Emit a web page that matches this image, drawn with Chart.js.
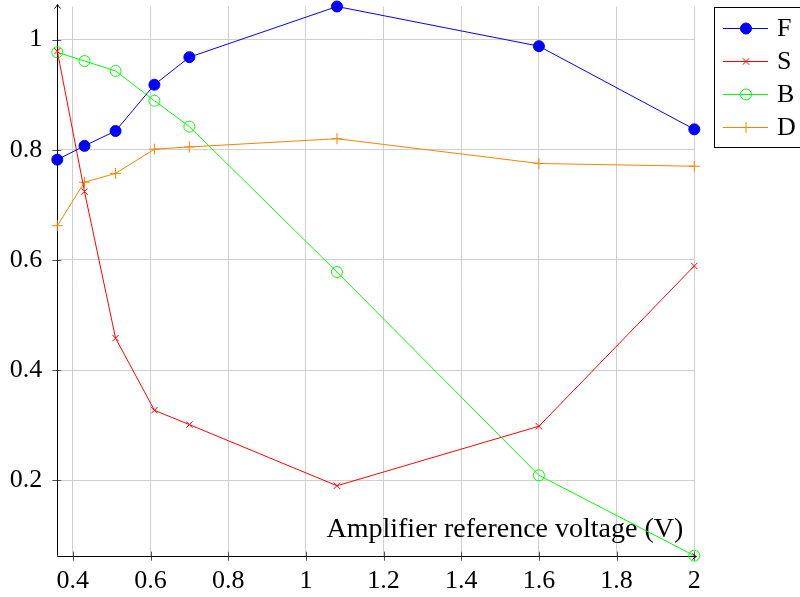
<!DOCTYPE html>
<html>
<head>
<meta charset="utf-8">
<script src="https://cdn.jsdelivr.net/npm/chart.js@4/dist/chart.umd.min.js"></script>
<style>
  html, body { margin: 0; padding: 0; background: #fff; }
  #wrap { width: 800px; height: 597px; position: relative; }
</style>
</head>
<body>
<div id="wrap"><canvas id="c" width="800" height="597"></canvas></div>
<script>
// Reference voltage settings (V)
const voltages = [0.36, 0.43, 0.51, 0.61, 0.70, 1.08, 1.60, 2.00];

// Measured series
const seriesF = [0.782, 0.807, 0.834, 0.918, 0.968, 1.060, 0.988, 0.837];
const seriesS = [0.979, 0.724, 0.458, 0.327, 0.301, 0.190, 0.298, 0.589];
const seriesB = [0.977, 0.961, 0.943, 0.889, 0.842, 0.578, 0.209, 0.063];
const seriesD = [0.662, 0.741, 0.757, 0.801, 0.805, 0.820, 0.775, 0.770];

const seriesNames = ['F', 'S', 'B', 'D'];

// Tick positions
const xTicks = [0.4, 0.6, 0.8, 1, 1.2, 1.4, 1.6, 1.8, 2];
const yTicks = [0.2, 0.4, 0.6, 0.8, 1];

const xTitle = 'Amplifier reference voltage (V)';

const SERIF = '"Liberation Serif", "DejaVu Serif", serif';
const GRID = '#cfcfcf';

const toPoints = ys => voltages.map((x, i) => ({ x, y: ys[i] }));
const allY = [].concat(seriesF, seriesS, seriesB, seriesD);
const fmt = v => String(Number(v.toFixed(2)));

const styles = [
  { color: '#0000ff', pointStyle: 'circle',   radius: 5.5, fill: '#0000ff' },
  { color: '#ff0000', pointStyle: 'crossRot', radius: 4.5, fill: '#ff0000' },
  { color: '#00ff00', pointStyle: 'circle',   radius: 5.5, fill: 'rgba(0,0,0,0)' },
  { color: '#ff8000', pointStyle: 'cross',    radius: 5.5, fill: '#ff8000' }
];

const datasets = [seriesF, seriesS, seriesB, seriesD].map((ys, i) => ({
  label: seriesNames[i],
  data: toPoints(ys),
  borderColor: styles[i].color,
  backgroundColor: styles[i].fill,
  pointBorderColor: styles[i].color,
  pointBackgroundColor: styles[i].fill,
  pointStyle: styles[i].pointStyle,
  pointRadius: styles[i].radius,
  pointBorderWidth: 1,
  borderWidth: 1,
  tension: 0,
  clip: false
}));

// Axis lines with arrow heads, tick marks, axis title and legend box
const decorations = {
  id: 'decorations',
  beforeDatasetsDraw(chart) {
    const { ctx, chartArea: a, scales } = chart;
    ctx.save();
    ctx.lineWidth = 1;
    // tick marks
    ctx.strokeStyle = '#555';
    xTicks.forEach(v => {
      const px = Math.round(scales.x.getPixelForValue(v)) + 0.5;
      ctx.beginPath(); ctx.moveTo(px, a.bottom - 4); ctx.lineTo(px, a.bottom + 5); ctx.stroke();
    });
    yTicks.forEach(v => {
      const py = Math.round(scales.y.getPixelForValue(v)) + 0.5;
      ctx.beginPath(); ctx.moveTo(a.left - 5, py); ctx.lineTo(a.left + 4, py); ctx.stroke();
    });
    ctx.strokeStyle = '#000';
    // y axis with arrow
    const lx = Math.round(a.left) + 0.5;
    const topY = a.top - 2;
    ctx.beginPath(); ctx.moveTo(lx, a.bottom); ctx.lineTo(lx, topY); ctx.stroke();
    ctx.beginPath();
    ctx.moveTo(lx - 3, topY + 4); ctx.quadraticCurveTo(lx - 0.5, topY + 1.5, lx, topY);
    ctx.quadraticCurveTo(lx + 0.5, topY + 1.5, lx + 3, topY + 4);
    ctx.stroke();
    // x axis with arrow
    const by = Math.round(a.bottom) + 0.5;
    const rightX = a.right + 2;
    ctx.beginPath(); ctx.moveTo(a.left, by); ctx.lineTo(rightX, by); ctx.stroke();
    ctx.beginPath();
    ctx.moveTo(rightX - 4, by - 3); ctx.quadraticCurveTo(rightX - 1.5, by - 0.5, rightX, by);
    ctx.quadraticCurveTo(rightX - 1.5, by + 0.5, rightX - 4, by + 3);
    ctx.stroke();
    // axis title inside the plot, bottom right
    ctx.fillStyle = '#000';
    ctx.font = '28px ' + SERIF;
    ctx.textAlign = 'right';
    ctx.textBaseline = 'alphabetic';
    ctx.fillText(xTitle, a.right - 11, a.bottom - 19);
    ctx.restore();
  },
  afterDraw(chart) {
    const { ctx } = chart;
    const bx = 714.5, by = 7.5, bw = 90, bh = 140;
    ctx.save();
    ctx.fillStyle = '#fff';
    ctx.fillRect(bx, by, bw, bh);
    ctx.strokeStyle = '#000';
    ctx.lineWidth = 1;
    ctx.strokeRect(bx, by, bw, bh);
    chart.data.datasets.forEach((ds, i) => {
      const cy = 28.5 + i * 33;
      ctx.strokeStyle = ds.borderColor;
      ctx.lineWidth = 1;
      ctx.beginPath(); ctx.moveTo(723, cy); ctx.lineTo(768, cy); ctx.stroke();
      ctx.fillStyle = ds.pointBackgroundColor;
      ctx.strokeStyle = ds.pointBorderColor;
      Chart.helpers.drawPoint(ctx, {
        pointStyle: ds.pointStyle,
        radius: ds.pointRadius,
        borderWidth: 1,
        rotation: 0
      }, 746, cy);
      ctx.fillStyle = '#000';
      ctx.font = '26px ' + SERIF;
      ctx.textAlign = 'left';
      ctx.textBaseline = 'middle';
      ctx.fillText(ds.label, 777, cy + 1);
    });
    ctx.restore();
  }
};

new Chart(document.getElementById('c'), {
  type: 'line',
  data: { datasets },
  plugins: [decorations],
  options: {
    responsive: false,
    animation: false,
    devicePixelRatio: 1,
    layout: { padding: { left: 0, right: 105.7, top: 6, bottom: 0 } },
    plugins: { legend: { display: false }, tooltip: { enabled: false } },
    scales: {
      x: {
        type: 'linear',
        min: voltages[0],
        max: voltages[voltages.length - 1],
        afterBuildTicks: s => { s.ticks = xTicks.map(v => ({ value: v })); },
        afterFit: s => { s.height = 41.3; s.paddingLeft = 0; s.paddingRight = 0; },
        border: { display: false },
        grid: { color: GRID, lineWidth: 1, drawTicks: false },
        ticks: { color: '#000', font: { family: SERIF, size: 26 }, padding: 10, maxRotation: 0, autoSkip: false, callback: fmt }
      },
      y: {
        type: 'linear',
        min: Math.min(...allY),
        max: Math.max(...allY),
        afterBuildTicks: s => { s.ticks = yTicks.map(v => ({ value: v })); },
        afterFit: s => { s.width = 57.3; s.paddingTop = 0; s.paddingBottom = 0; },
        border: { display: false },
        grid: { color: GRID, lineWidth: 1, drawTicks: false },
        ticks: { color: '#000', font: { family: SERIF, size: 26 }, padding: 15, autoSkip: false, callback: fmt }
      }
    }
  }
});
</script>
</body>
</html>
